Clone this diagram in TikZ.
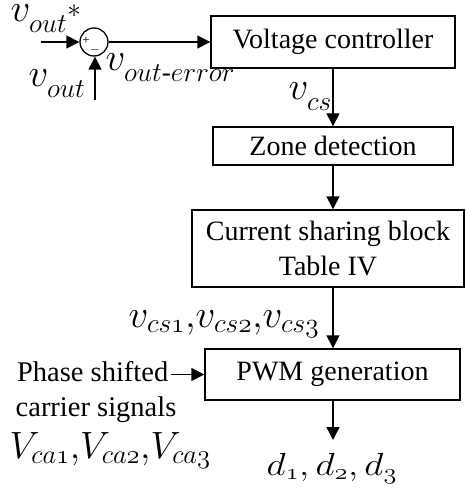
\RequirePackage{fix-cm}
\documentclass[tikz,border=0pt]{standalone}
\usepackage{amsmath}
\usepackage{fontspec}
\setmainfont{Liberation Serif}
\usetikzlibrary{arrows.meta}
% old-style digits from the math italic font
\DeclareMathSymbol{\osone}{\mathord}{letters}{"31}
\DeclareMathSymbol{\ostwo}{\mathord}{letters}{"32}
\DeclareMathSymbol{\osthree}{\mathord}{letters}{"33}
% subscript set a little lower than usual
\newcommand{\lowsub}[1]{_{\raisebox{-4.5pt}{$\scriptstyle #1$}}}
\begin{document}
\begin{tikzpicture}[x=1pt,y=-1pt,
  line width=1.4pt,
  blk/.style={draw,line width=1.4pt,inner sep=0pt,align=center,
    font=\fontsize{28}{35}\selectfont},
  lbl/.style={inner sep=0pt,font=\fontsize{28.5}{34}\selectfont},
  mth/.style={inner sep=0pt,anchor=base west,font=\fontsize{39}{44}\selectfont},
  sig/.style={-{Triangle[length=13pt,width=13pt]}}]
\useasboundingbox (0,0) rectangle (465,494);

% summing junction
\node[draw,circle,minimum size=28pt,inner sep=0pt,line width=1.3pt] (sum) at (94,42) {};
\node[inner sep=0pt,font=\fontsize{13}{13}\selectfont] (plus) at (86,41) {+};
\node[inner sep=0pt,font=\fontsize{13}{13}\selectfont] (minus) at (95,50) {$-$};

% blocks
\node[blk,minimum width=244pt,minimum height=52pt] (vc) at (333,42) {Voltage controller};
\node[blk,minimum width=240pt,minimum height=38pt] (zd) at (333,146) {Zone detection};
\node[blk,minimum width=272pt,minimum height=77pt] (cs) at (328,248.5) {Current sharing block\\Table IV};
\node[blk,minimum width=255pt,minimum height=51pt] (pwm) at (332.5,374.5) {PWM generation};

% free ends of the signal lines
\coordinate (refin) at (41,42);
\coordinate (fbin) at (95,100);
\coordinate (dout) at (333,440);

% signal labels (placed by their baselines)
\node[mth] (vref) at (10,22) {$v\lowsub{out}{}^{\raisebox{-14pt}{$\scriptstyle *$}}$};
\node[mth] (vfb) at (28,87) {$v\lowsub{out}$};
\node[mth] (verr) at (105,71) {$v\lowsub{out\textit{-}error}$};
\node[mth] (vcs) at (288,100) {$v\lowsub{cs}$};
\node[mth] (vcsn) at (128,327) {$v_{cs\osone}{,}v_{cs\ostwo}{,}v_{cs\osthree}$};
\node[lbl,anchor=base east] (phase) at (169,381) {Phase shifted};
\node[lbl,anchor=base west] (carrier) at (15,416) {carrier signals};
\node[mth,font=\fontsize{38}{42}\selectfont] (vca) at (9,458) {$V_{ca\osone}{,}V_{ca\ostwo}{,}V_{ca\osthree}$};
\node[mth,font=\fontsize{32}{36}\selectfont] (dd) at (266,475)
  {\scalebox{1.17}[1]{$d_{\osone},d_{\ostwo},d_{\osthree}$}};

% connectors
\draw[sig] (refin) -- (sum.west);
\draw[sig] (fbin) -- (sum.south -| fbin);
\draw[sig] (sum.east) -- (vc.west);
\draw[sig] (vc.south) -- (zd.north);
\draw[sig] (zd.south) -- (cs.north -| zd.south);
\draw[sig] (cs.south -| zd.south) -- (pwm.north -| zd.south);
\draw[sig] (phase.east |- pwm.west) ++(2,0) -- (pwm.west);
\draw[sig] (pwm.south -| zd.south) -- (dout);
\end{tikzpicture}
\end{document}
